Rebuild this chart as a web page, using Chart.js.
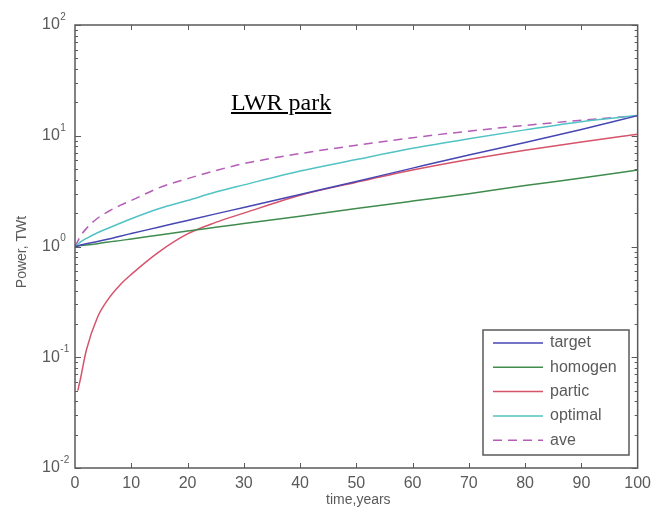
<!DOCTYPE html>
<html>
<head>
<meta charset="utf-8">
<script src="https://cdn.jsdelivr.net/npm/chart.js@4.4.1/dist/chart.umd.min.js"></script>
<style>
  body { margin: 0; background: #fff; }
  #wrap { position: relative; width: 657px; height: 517px; }
  #plot { filter: blur(0.45px); }
  #title {
    position: absolute; left: 231px; top: 89px;
    font: 24px "Liberation Serif", "Times New Roman", serif;
    text-decoration: underline; color: #000; white-space: nowrap;
  }
</style>
</head>
<body>
<div id="wrap">
  <canvas id="plot" width="657" height="517"></canvas>
  <div id="title">LWR park</div>
</div>
<script>
// time axis, years
const years   = [0, 0.5, 1, 2, 4, 6, 8, 10, 15, 20, 25, 30, 40, 50, 60, 70, 80, 90, 100];

// power, TWt
const target  = [1.0, 1.01, 1.03, 1.06, 1.11, 1.17, 1.24, 1.31, 1.50, 1.72, 1.97, 2.25, 2.95, 3.87, 5.1, 6.7, 8.7, 11.4, 15.2];
const homogen = [1.0, 1.01, 1.02, 1.03, 1.06, 1.10, 1.13, 1.17, 1.27, 1.38, 1.49, 1.61, 1.88, 2.2, 2.57, 3.0, 3.55, 4.15, 4.9];
const partic  = [null, 0.05, 0.065, 0.115, 0.23, 0.34, 0.45, 0.56, 0.9, 1.3, 1.65, 2.0, 2.9, 3.8, 4.9, 6.1, 7.4, 8.8, 10.3];
const optimal = [1.0, 1.05, 1.1, 1.18, 1.33, 1.47, 1.62, 1.78, 2.2, 2.6, 3.1, 3.6, 4.8, 6.1, 7.7, 9.4, 11.3, 13.4, 15.2];
const ave     = [1.0, 1.12, 1.25, 1.45, 1.8, 2.08, 2.35, 2.6, 3.4, 4.1, 4.85, 5.6, 6.9, 8.2, 9.6, 11.0, 12.4, 13.8, 15.2];

const xTicks = [0, 10, 20, 30, 40, 50, 60, 70, 80, 90, 100];
const yDecades = [-2, -1, 0, 1, 2];

const toPoints = vals => years.map((t, i) => ({ x: t, y: vals[i] })).filter(p => p.y !== null);

const AXIS = '#5a5a5a';
const FONT = '"Liberation Sans", Arial, sans-serif';

function series(label, vals, color, dash) {
  return {
    label,
    data: toPoints(vals),
    borderColor: color,
    backgroundColor: color,
    borderWidth: 1.5,
    borderDash: dash || [],
    pointRadius: 0,
    cubicInterpolationMode: 'monotone',
    fill: false
  };
}

// box, inward ticks, log labels, axis titles and legend, matlab style
const frame = {
  id: 'frame',
  afterDatasetsDraw(chart) {
    const { ctx, chartArea: a, scales: { x, y } } = chart;
    ctx.save();
    ctx.strokeStyle = AXIS;
    ctx.lineWidth = 1.5;
    ctx.strokeRect(a.left, a.top, a.right - a.left, a.bottom - a.top);

    ctx.lineWidth = 1;
    ctx.beginPath();
    xTicks.slice(1, -1).forEach(v => {
      const px = Math.round(x.getPixelForValue(v)) + 0.5;
      ctx.moveTo(px, a.bottom); ctx.lineTo(px, a.bottom - 5);
      ctx.moveTo(px, a.top); ctx.lineTo(px, a.top + 5);
    });
    yDecades.forEach(k => {
      for (let m = 1; m <= 9; m++) {
        const v = m * Math.pow(10, k);
        if (v > 100) break;
        const py = Math.round(y.getPixelForValue(v)) + 0.5;
        const len = m === 1 ? 6 : 3;
        ctx.moveTo(a.left, py); ctx.lineTo(a.left + len, py);
        ctx.moveTo(a.right, py); ctx.lineTo(a.right - len, py);
      }
    });
    ctx.stroke();

    // y labels as 10 with a raised exponent
    ctx.fillStyle = AXIS;
    ctx.textBaseline = 'middle';
    ctx.textAlign = 'left';
    yDecades.forEach(k => {
      const py = y.getPixelForValue(Math.pow(10, k));
      ctx.font = '16px ' + FONT;
      ctx.fillText('10', 42, py);
      const w = ctx.measureText('10').width;
      ctx.font = '10px ' + FONT;
      ctx.fillText(String(k), 42 + w + 0.5, py - 8);
    });

    // axis titles
    ctx.font = '14px ' + FONT;
    ctx.textAlign = 'center';
    ctx.fillText('time,years', (a.left + a.right) / 2 + 2, 500);
    ctx.save();
    ctx.translate(22, 252);
    ctx.rotate(-Math.PI / 2);
    ctx.fillText('Power, TWt', 0, 0);
    ctx.restore();

    // legend box in the lower right corner
    const lx = 483, ly = 330, lw = 146, lh = 125;
    ctx.fillStyle = '#fff';
    ctx.fillRect(lx, ly, lw, lh);
    ctx.strokeStyle = AXIS;
    ctx.lineWidth = 1.5;
    ctx.strokeRect(lx, ly, lw, lh);
    ctx.font = '16px ' + FONT;
    ctx.textAlign = 'left';
    chart.data.datasets.forEach((ds, i) => {
      const ry = ly + 13 + i * 24.3;
      ctx.strokeStyle = ds.borderColor;
      ctx.lineWidth = 1.5;
      ctx.setLineDash(ds.borderDash);
      ctx.beginPath();
      ctx.moveTo(lx + 10, ry); ctx.lineTo(lx + 60, ry);
      ctx.stroke();
      ctx.setLineDash([]);
      ctx.fillStyle = AXIS;
      ctx.fillText(ds.label, lx + 67, ry);
    });
    ctx.restore();
  }
};

new Chart(document.getElementById('plot'), {
  type: 'line',
  data: {
    datasets: [
      series('target', target, '#4646b4'),
      series('homogen', homogen, '#3f8c4e'),
      series('partic', partic, '#d6536a'),
      series('optimal', optimal, '#52c2c4'),
      series('ave', ave, '#b45cb8', [9, 6])
    ]
  },
  options: {
    responsive: false,
    animation: false,
    layout: { padding: { left: 0, right: 17, top: 25, bottom: 0 } },
    plugins: { legend: { display: false }, tooltip: { enabled: false } },
    scales: {
      x: {
        type: 'linear',
        min: 0,
        max: 100,
        afterBuildTicks: s => { s.ticks = xTicks.map(v => ({ value: v })); },
        afterFit: s => { s.height = 49; },
        grid: { display: false, drawTicks: false },
        border: { display: false },
        ticks: { color: AXIS, font: { size: 16, family: FONT }, padding: 6, maxRotation: 0, autoSkip: false }
      },
      y: {
        type: 'logarithmic',
        min: 0.01,
        max: 100,
        afterFit: s => { s.width = 75; },
        grid: { display: false, drawTicks: false },
        border: { display: false },
        ticks: { display: false }
      }
    }
  },
  plugins: [frame]
});
</script>
</body>
</html>
